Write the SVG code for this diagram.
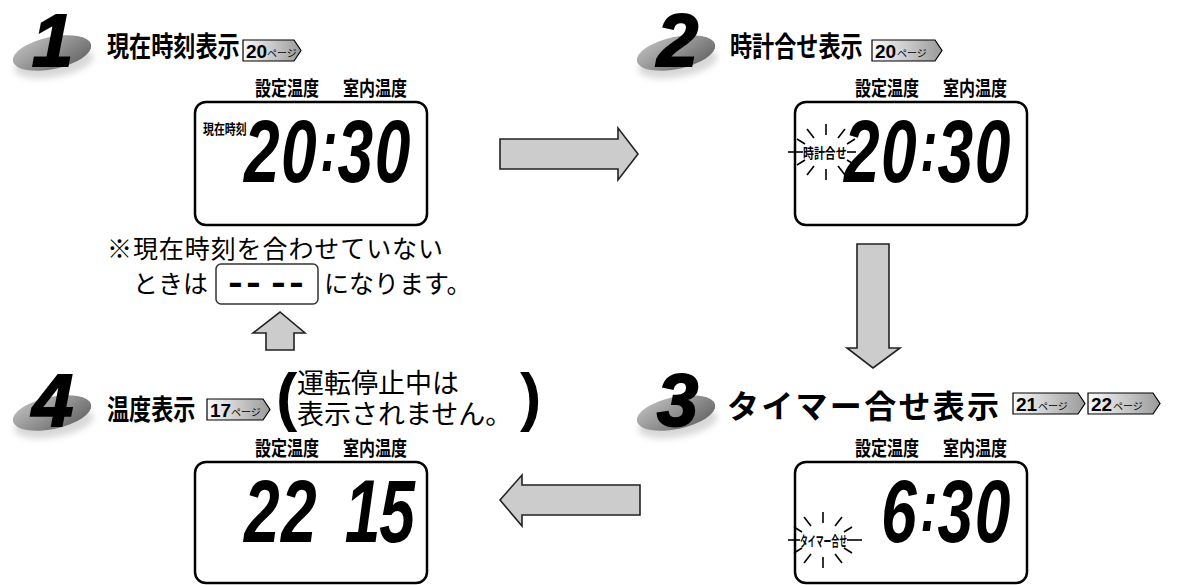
<svg xmlns="http://www.w3.org/2000/svg" width="1189" height="585" viewBox="0 0 1189 585">
<style>
.title{font-family:"Noto Sans CJK JP","Noto Sans CJK SC",sans-serif;font-weight:bold;font-size:28px;fill:#000}
.note{font-family:"Noto Sans CJK JP",sans-serif;font-size:25px;fill:#000}
.sub{font-family:"Noto Sans CJK JP",sans-serif;font-size:27px;fill:#000}
.lbl{font-family:"Noto Sans CJK JP",sans-serif;font-weight:bold;font-size:20px;fill:#000}
.small{font-family:"Noto Sans CJK JP",sans-serif;font-weight:bold;font-size:14px;fill:#000}
.num{font-family:"Liberation Sans",Arial,sans-serif;font-weight:bold;font-style:italic;font-size:74px;fill:#000;stroke:#000;stroke-width:2}
.dig{font-family:"Liberation Sans",Arial,sans-serif;font-weight:bold;font-style:italic;font-size:89px;fill:#000}
.pg{font-family:"Liberation Sans",Arial,sans-serif;font-weight:bold;font-size:19px;fill:#000}
.pgs{font-family:"Noto Sans CJK JP",sans-serif;font-size:10px;fill:#000}
.paren{font-family:"Liberation Sans",Arial,sans-serif;font-weight:bold;font-size:64px;fill:#000}
.dash{font-family:"Liberation Sans",Arial,sans-serif;font-weight:bold;font-size:36px;fill:#000}
.lcd{fill:#fff;stroke:#000;stroke-width:2.5}
.arr{fill:#cccccc;stroke:#222;stroke-width:1.6;stroke-linejoin:miter}
.pgbox{fill:url(#pgGrad);stroke:#000;stroke-width:1.2}
.ray{stroke:#000;stroke-width:1.6;fill:none}
</style>
<defs>
<linearGradient id="ellGrad" x1="0" y1="0" x2="1" y2="1">
<stop offset="0" stop-color="#c4c4c4"/>
<stop offset="1" stop-color="#5e5e5e"/>
</linearGradient>
<linearGradient id="pgGrad" x1="0" y1="0" x2="1" y2="0">
<stop offset="0" stop-color="#fafafa"/>
<stop offset="1" stop-color="#9a9a9a"/>
</linearGradient>
<filter id="blur" x="-30%" y="-30%" width="160%" height="160%"><feGaussianBlur stdDeviation="3"/></filter>
<g id="badge">
<ellipse cx="2" cy="10" rx="40" ry="14" fill="#d8d8d8" filter="url(#blur)" transform="rotate(-10 2 10)"/>
<ellipse cx="0" cy="0" rx="40" ry="16" fill="url(#ellGrad)" transform="rotate(-12)"/>
</g>
<g id="rays">
<line class="ray" x1="0" y1="-17" x2="0" y2="-28"/>
<line class="ray" x1="-12" y1="-14" x2="-19" y2="-23"/>
<line class="ray" x1="12" y1="-14" x2="19" y2="-23"/>
<line class="ray" x1="-21" y1="-8" x2="-29" y2="-13"/>
<line class="ray" x1="21" y1="-8" x2="29" y2="-13"/>
<line class="ray" x1="0" y1="17" x2="0" y2="28"/>
<line class="ray" x1="-12" y1="14" x2="-19" y2="23"/>
<line class="ray" x1="12" y1="14" x2="19" y2="23"/>
<line class="ray" x1="-21" y1="8" x2="-29" y2="13"/>
<line class="ray" x1="21" y1="8" x2="29" y2="13"/>
</g>
</defs>

<!-- Step 1 -->
<g id="step1">
<use href="#badge" x="52" y="53"/>
<text class="num" x="32" y="66">1</text>
<text class="title" transform="translate(107,57) scale(0.79,1)">現在時刻表示</text>
<g id="pg1">
<polygon class="pgbox" points="243,40 294,40 301,50.5 294,61 243,61"/>
<text class="pg" x="246" y="58">20</text><text class="pgs" x="267" y="57">ページ</text>
</g>
</g>
<g id="lcd1">
<text class="lbl" transform="translate(255,96) scale(0.8,1)">設定温度</text>
<text class="lbl" transform="translate(343,96) scale(0.8,1)">室内温度</text>
<rect class="lcd" x="195" y="102" width="232" height="123" rx="11"/>
<text class="small" transform="translate(203,134) scale(0.78,1)">現在時刻</text>
<text class="dig" transform="matrix(0.72 0 0 1 244 182)"><tspan x="0">2</tspan><tspan x="51.4">0</tspan><tspan x="106" dy="-11" font-size="72">:</tspan><tspan x="130" dy="11">3</tspan><tspan x="181.5">0</tspan></text>
</g>
<g id="note">
<text class="note" x="107" y="258" textLength="336" lengthAdjust="spacing">※現在時刻を合わせていない</text>
<text class="note" x="133" y="293">ときは</text>
<rect x="216" y="264" width="102" height="40" rx="5" fill="#fff" stroke="#333" stroke-width="1.5"/>
<text class="dash" transform="matrix(1.2 0 0 1 0 294)"><tspan x="190.3">-</tspan><tspan x="205.3">-</tspan><tspan x="226.1">-</tspan><tspan x="241.1">-</tspan></text>
<text class="note" x="324" y="293">になります。</text>
</g>

<!-- Step 2 -->
<g id="step2">
<use href="#badge" x="676" y="53"/>
<text class="num" x="657" y="66">2</text>
<text class="title" transform="translate(730,57) scale(0.79,1)">時計合せ表示</text>
<g id="pg2">
<polygon class="pgbox" points="872,40 935,40 942,50.5 935,61 872,61"/>
<text class="pg" x="875" y="58">20</text><text class="pgs" x="897" y="57">ページ</text>
</g>
</g>
<g id="lcd2">
<text class="lbl" transform="translate(855,96) scale(0.8,1)">設定温度</text>
<text class="lbl" transform="translate(943,96) scale(0.8,1)">室内温度</text>
<rect class="lcd" x="795" y="102" width="232" height="123" rx="11"/>
<use href="#rays" x="826" y="152"/>
<line class="ray" x1="788" y1="152" x2="803" y2="152"/>
<line class="ray" x1="847" y1="152" x2="856" y2="152"/>
<text class="small" transform="translate(803,158) scale(0.78,1)">時計合せ</text>
<text class="dig" transform="matrix(0.72 0 0 1 844 182)"><tspan x="0">2</tspan><tspan x="51.4">0</tspan><tspan x="106" dy="-11" font-size="72">:</tspan><tspan x="130" dy="11">3</tspan><tspan x="181.5">0</tspan></text>
</g>

<!-- Step 3 -->
<g id="step3">
<use href="#badge" x="676" y="413"/>
<text class="num" x="657" y="426">3</text>
<text class="title" x="727" y="418" style="font-size:32px" textLength="272" lengthAdjust="spacing">タイマー合せ表示</text>
<g id="pg3a">
<polygon class="pgbox" points="1013,393 1078,393 1085,403.5 1078,414 1013,414"/>
<text class="pg" x="1016" y="411">21</text><text class="pgs" x="1038" y="410">ページ</text>
</g>
<g id="pg3b">
<polygon class="pgbox" points="1088,393 1153,393 1160,403.5 1153,414 1088,414"/>
<text class="pg" x="1091" y="411">22</text><text class="pgs" x="1113" y="410">ページ</text>
</g>
</g>
<g id="lcd3">
<text class="lbl" transform="translate(855,456) scale(0.8,1)">設定温度</text>
<text class="lbl" transform="translate(943,456) scale(0.8,1)">室内温度</text>
<rect class="lcd" x="795" y="462" width="232" height="121" rx="11"/>
<use href="#rays" x="823" y="540"/>
<line class="ray" x1="788" y1="540" x2="800" y2="540"/>
<line class="ray" x1="847" y1="540" x2="862" y2="540"/>
<text class="small" transform="translate(800,546) scale(0.56,1)">タイマー合せ</text>
<text class="dig" transform="matrix(0.72 0 0 1 844 542)"><tspan x="51.4">6</tspan><tspan x="106" dy="-11" font-size="72">:</tspan><tspan x="130" dy="11">3</tspan><tspan x="181.5">0</tspan></text>
</g>

<!-- Step 4 -->
<g id="step4">
<use href="#badge" x="52" y="413"/>
<text class="num" x="32" y="426">4</text>
<text class="title" transform="translate(107,420) scale(0.79,1)">温度表示</text>
<g id="pg4">
<polygon class="pgbox" points="207,399 263,399 270,409.5 263,420 207,420"/>
<text class="pg" x="210" y="417">17</text><text class="pgs" x="231" y="416">ページ</text>
</g>
<text class="paren" x="276" y="419">(</text>
<text class="sub"><tspan x="297" y="393">運転停止中は</tspan><tspan x="297" y="424">表示されません。</tspan></text>
<text class="paren" x="520" y="419">)</text>
</g>
<g id="lcd4">
<text class="lbl" transform="translate(255,456) scale(0.8,1)">設定温度</text>
<text class="lbl" transform="translate(343,456) scale(0.8,1)">室内温度</text>
<rect class="lcd" x="195" y="462" width="232" height="121" rx="11"/>
<text class="dig" transform="matrix(0.72 0 0 1 244 542)"><tspan x="0">2</tspan><tspan x="51.4">2</tspan><tspan x="140">1</tspan><tspan x="188">5</tspan></text>
</g>

<!-- Connectors -->
<g id="connectors">
<polygon class="arr" points="500,139 618,139 618,128 638,154 618,180 618,169 500,169"/>
<polygon class="arr" points="857,244 889,244 889,348 900,348 873,368 847,348 857,348"/>
<polygon class="arr" points="640,485 522,485 522,475 500,500 522,526 522,515 640,515"/>
<polygon class="arr" points="266,350 266,333 253,333 280,312 305,333 294,333 294,350"/>
</g>
</svg>
